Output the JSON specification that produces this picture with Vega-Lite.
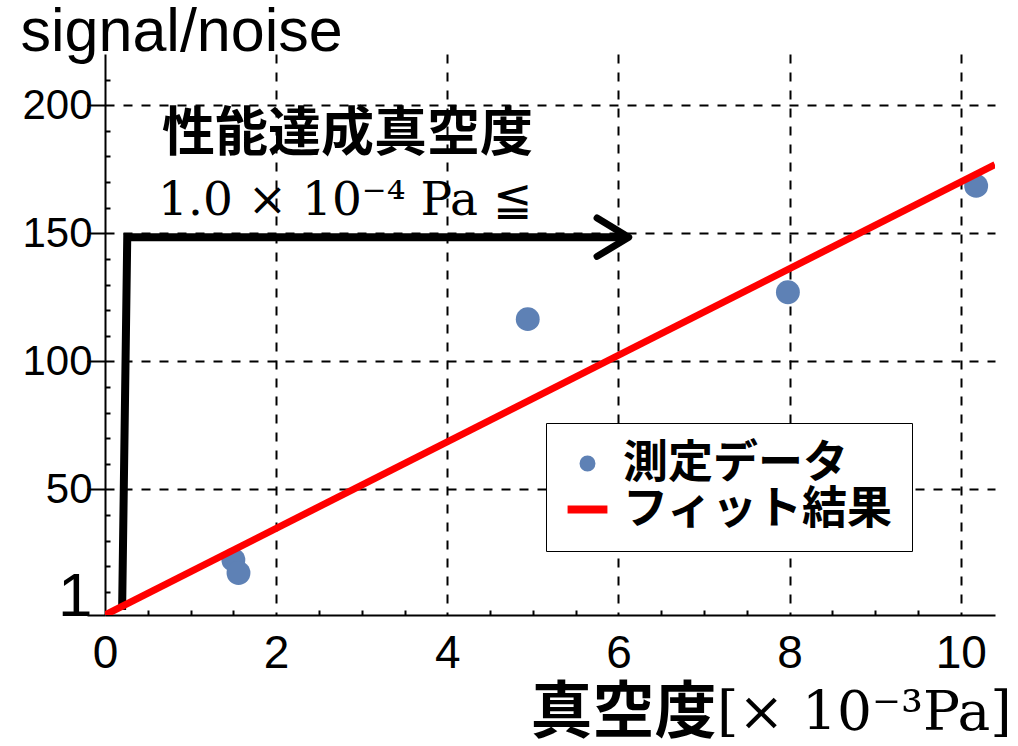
{
  "$schema": "https://vega.github.io/schema/vega-lite/v6.json",
  "width": 890,
  "height": 561,
  "autosize": "none",
  "padding": {"left": 105, "top": 54, "right": 23, "bottom": 131},
  "background": "white",
  "config": {"view": {"stroke": null}, "font": "Liberation Sans"},
  "datasets": {
    "measured": [
      {"x": 1.50, "y": 22.5, "series": "測定データ"},
      {"x": 1.56, "y": 17.4, "series": "測定データ"},
      {"x": 4.94, "y": 116.5, "series": "測定データ"},
      {"x": 7.98, "y": 127.0, "series": "測定データ"},
      {"x": 10.18, "y": 168.5, "series": "測定データ"}
    ],
    "fit": [
      {"x": 0, "y": 1},
      {"x": 10.4, "y": 176.8}
    ],
    "arrow": [
      {"x": 0.2, "y": 3, "o": 1},
      {"x": 0.26, "y": 148.5, "o": 2},
      {"x": 6.08, "y": 148.5, "o": 3}
    ],
    "arrowhead": [
      {"x": 5.75, "y": 156, "o": 1},
      {"x": 6.12, "y": 148.5, "o": 2},
      {"x": 5.75, "y": 141, "o": 3}
    ],
    "note_cjk": [
      {"x": 0.666, "y": 182, "text": "性能達成真空度"}
    ],
    "note_serif": [
      {"x": 0.62, "y": 157, "text": "1.0 × 10⁻⁴ Pa ≦"}
    ],
    "unit": [
      {"x": 7.15, "y": -44, "text": "[× 10⁻³Pa]"}
    ]
  },
  "encoding": {
    "x": {
      "field": "x",
      "type": "quantitative",
      "scale": {"domain": [0, 10.4], "nice": false, "zero": false},
      "axis": {
        "values": [0, 0.5, 1, 1.5, 2, 2.5, 3, 3.5, 4, 4.5, 5, 5.5, 6, 6.5, 7, 7.5, 8, 8.5, 9, 9.5, 10],
        "labelExpr": "datum.value % 2 == 0 ? format(datum.value, 'd') : ''",
        "labelFont": "Liberation Sans",
        "labelFontSize": 46,
        "labelColor": "black",
        "labelBaseline": "top",
        "labelPadding": 16,
        "labelOverlap": false,
        "labelFlush": false,
        "tickSize": {"condition": {"test": "datum.value % 2 != 0", "value": -5}, "value": 0},
        "tickColor": "black",
        "tickWidth": 2,
        "domainColor": "black",
        "domainWidth": 2,
        "grid": true,
        "gridColor": "black",
        "gridWidth": 2,
        "gridDash": [9, 9],
        "gridOpacity": {"condition": {"test": "datum.value % 2 != 0 || datum.value == 0", "value": 0}, "value": 1},
        "title": "真空度",
        "titleFont": "Noto Sans CJK JP",
        "titleFontWeight": "bold",
        "titleFontSize": 62,
        "titleColor": "black",
        "titleAlign": "left",
        "titleAnchor": "start",
        "titleBaseline": "alphabetic",
        "titleX": 425,
        "titleY": 117
      }
    },
    "y": {
      "field": "y",
      "type": "quantitative",
      "scale": {"domain": [1, 220], "nice": false, "zero": false},
      "axis": {
        "values": [1, 10, 20, 30, 40, 50, 60, 70, 80, 90, 100, 110, 120, 130, 140, 150, 160, 170, 180, 190, 200, 210],
        "labelExpr": "datum.value == 1 || datum.value % 50 == 0 ? format(datum.value, 'd') : ''",
        "labelFont": "Liberation Sans",
        "labelFontSize": {"condition": {"test": "datum.value == 1", "value": 62}, "value": 42},
        "labelBaseline": {"condition": {"test": "datum.value == 1", "value": "alphabetic"}, "value": "middle"},
        "labelColor": "black",
        "labelPadding": -5,
        "labelOverlap": false,
        "labelFlush": false,
        "tickSize": {"condition": {"test": "datum.value == 1 || datum.value % 50 == 0", "value": 18}, "value": -5},
        "tickColor": "black",
        "tickWidth": 2,
        "domainColor": "black",
        "domainWidth": 2,
        "grid": true,
        "gridColor": "black",
        "gridWidth": 2,
        "gridDash": [9, 9],
        "gridOpacity": {"condition": {"test": "datum.value % 50 == 0", "value": 1}, "value": 0},
        "title": "signal/noise",
        "titleAngle": 0,
        "titleAlign": "left",
        "titleBaseline": "alphabetic",
        "titleX": -85,
        "titleY": -4,
        "titleFont": "Liberation Sans",
        "titleFontSize": 61,
        "titleFontWeight": "normal",
        "titleColor": "black"
      }
    }
  },
  "layer": [
    {
      "data": {"name": "arrow"},
      "mark": {"type": "line", "color": "black", "strokeWidth": 8, "strokeCap": "butt", "strokeJoin": "miter"},
      "encoding": {"order": {"field": "o", "type": "quantitative"}}
    },
    {
      "data": {"name": "arrowhead"},
      "mark": {"type": "line", "color": "black", "strokeWidth": 7, "strokeCap": "round", "strokeJoin": "round"},
      "encoding": {"order": {"field": "o", "type": "quantitative"}}
    },
    {
      "data": {"name": "measured"},
      "mark": {"type": "point", "filled": true, "size": 570, "opacity": 1, "strokeWidth": 0},
      "encoding": {
        "color": {
          "field": "series",
          "type": "nominal",
          "scale": {"domain": ["測定データ", "フィット結果"], "range": ["#5E81B5", "#FF0000"]},
          "legend": {
            "title": null,
            "orient": "none",
            "legendX": 441,
            "legendY": 369,
            "padding": 18,
            "rowPadding": -4,
            "labelFont": "Noto Sans CJK JP",
            "labelFontWeight": "bold",
            "labelFontSize": 45,
            "labelColor": "black",
            "labelLimit": 500,
            "labelOffset": 13,
            "symbolOffset": 1,
            "symbolSize": 254,
            "symbolStrokeWidth": 0,
            "fillColor": "white",
            "strokeColor": "black",
            "encode": {"legend": {"update": {"strokeWidth": {"value": 2}}}}
          }
        },
        "shape": {
          "field": "series",
          "type": "nominal",
          "scale": {"domain": ["測定データ", "フィット結果"], "range": ["circle", "M-2.5,-0.5H2.5V0.5H-2.5Z"]},
          "legend": {
            "title": null,
            "orient": "none",
            "legendX": 441,
            "legendY": 369,
            "padding": 18,
            "rowPadding": -4,
            "labelFont": "Noto Sans CJK JP",
            "labelFontWeight": "bold",
            "labelFontSize": 45,
            "labelColor": "black",
            "labelLimit": 500,
            "labelOffset": 13,
            "symbolOffset": 1,
            "symbolSize": 254,
            "symbolStrokeWidth": 0,
            "fillColor": "white",
            "strokeColor": "black",
            "encode": {"legend": {"update": {"strokeWidth": {"value": 2}}}}
          }
        }
      }
    },
    {
      "data": {"name": "fit"},
      "mark": {"type": "line", "color": "#FF0000", "strokeWidth": 7, "clip": true},
      "encoding": {}
    },
    {
      "data": {"name": "note_cjk"},
      "mark": {"type": "text", "font": "Noto Sans CJK JP", "fontWeight": "bold", "fontSize": 53, "align": "left", "baseline": "alphabetic", "color": "black"},
      "encoding": {"text": {"field": "text"}}
    },
    {
      "data": {"name": "note_serif"},
      "mark": {"type": "text", "font": "DejaVu Serif", "fontSize": 47, "align": "left", "baseline": "alphabetic", "color": "black"},
      "encoding": {"text": {"field": "text"}}
    },
    {
      "data": {"name": "unit"},
      "mark": {"type": "text", "font": "DejaVu Serif", "fontSize": 55, "align": "left", "baseline": "alphabetic", "color": "black"},
      "encoding": {"text": {"field": "text"}}
    }
  ]
}
